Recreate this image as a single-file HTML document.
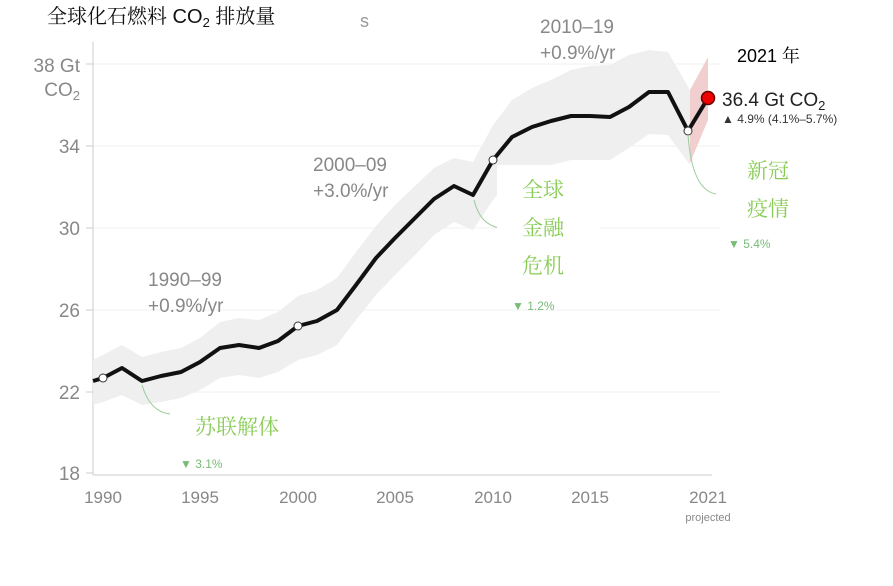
<!DOCTYPE html><html><head><meta charset="utf-8"><style>body{margin:0;background:#fff}svg{display:block}</style></head><body>
<svg width="893" height="586" xmlns="http://www.w3.org/2000/svg" font-family="Liberation Sans, Noto Sans CJK SC, sans-serif">
<g stroke="#f0f0f0" stroke-width="1"><line x1="93" y1="64" x2="720" y2="64"/><line x1="93" y1="146" x2="720" y2="146"/><line x1="93" y1="228" x2="720" y2="228"/><line x1="93" y1="310" x2="720" y2="310"/><line x1="93" y1="392" x2="720" y2="392"/></g>
<line x1="93" y1="42" x2="93" y2="475" stroke="#ccc"/><line x1="93" y1="475" x2="712" y2="475" stroke="#ccc"/>
<g stroke="#ccc"><line x1="86" y1="64" x2="93" y2="64"/><line x1="86" y1="146" x2="93" y2="146"/><line x1="86" y1="228" x2="93" y2="228"/><line x1="86" y1="310" x2="93" y2="310"/><line x1="86" y1="392" x2="93" y2="392"/><line x1="86" y1="473" x2="93" y2="473"/></g>
<g fill="#888" font-size="19" text-anchor="end"><text x="80" y="72">38 Gt</text><text x="80" y="96">CO<tspan font-size="13" dy="4">2</tspan></text><text x="80" y="153">34</text><text x="80" y="235">30</text><text x="80" y="317">26</text><text x="80" y="399">22</text><text x="80" y="480">18</text></g>
<g fill="#888" font-size="17" text-anchor="middle"><text x="103" y="503">1990</text><text x="200" y="503">1995</text><text x="298" y="503">2000</text><text x="395" y="503">2005</text><text x="493" y="503">2010</text><text x="590" y="503">2015</text><text x="708" y="503">2021</text><text x="708" y="521" font-size="11">projected</text></g>
<polygon fill="#efefef" points="93,360 122,345 142,357 161,352 181,348 200,338 220,322 239,318 259,320 278,312 298,296 317,290 337,278 356,252 376,226 395,205 415,186 434,168 454,158 473,162 493,125 512,100 532,88 551,80 571,70 590,66 610,65 629,55 649,50 668,52 690,90 690,165 668,135 649,134 629,148 610,160 590,160 571,160 551,165 532,170 512,178 493,200 473,230 454,222 434,235 415,255 395,275 376,295 356,320 337,345 317,355 298,360 278,372 259,378 239,375 220,378 200,390 181,398 161,402 142,405 122,395 103,402 93,405"/>
<polygon fill="#f2cfcf" points="690,90 708,57 708,120 690,163"/>
<polyline fill="none" stroke="#111" stroke-width="4" stroke-linejoin="round" points="93,381 103,378 122,368 142,381 161,376 181,372 200,362 220,348 239,345 259,348 278,341 298,326 317,321 337,310 356,285 376,258 395,238 415,218 434,199 454,186 473,195 493,160 512,137 532,127 551,121 571,116 590,116 610,117 629,107 649,92 668,92 688,131 708,98"/>
<g fill="#fff" stroke="#333" stroke-width="1"><circle cx="103" cy="378" r="4"/><circle cx="298" cy="326" r="4"/><circle cx="493" cy="160" r="4"/><circle cx="688" cy="131" r="4"/></g>
<circle cx="708" cy="98" r="6.5" fill="#e00" stroke="#600" stroke-width="1.5"/>
<g fill="none" stroke="#9c9" stroke-width="1"><path d="M142,385 Q150,412 170,414"/><path d="M688,135 Q692,190 716,194"/><path d="M474,200 Q480,225 500,228"/></g>
<rect x="497" y="165" width="103" height="115" fill="#fff"/><rect x="725" y="145" width="100" height="85" fill="#fff"/><rect x="190" y="405" width="110" height="35" fill="#fff"/>
<g fill="#888" font-size="19"><text x="148" y="286">1990–99</text><text x="148" y="312">+0.9%/yr</text><text x="313" y="171">2000–09</text><text x="313" y="197">+3.0%/yr</text><text x="540" y="33">2010–19</text><text x="540" y="59">+0.9%/yr</text></g>
<text x="722" y="106" font-size="19" fill="#222">36.4 Gt CO<tspan font-size="13" dy="4">2</tspan></text>
<text x="722" y="123" font-size="12" fill="#333">▲ 4.9% (4.1%–5.7%)</text>
<text x="737" y="62" font-size="18" fill="#000" font-family="Liberation Sans, Noto Serif CJK SC, serif">2021 年</text>
<text x="47" y="23" font-size="20" fill="#111" font-family="Liberation Sans, Noto Serif CJK SC, serif">全球化石燃料 CO<tspan font-size="13" dy="4">2</tspan><tspan dy="-4"> 排放量</tspan></text>
<text x="360" y="27" font-size="18" fill="#999">s</text>
<g fill="#8c5" font-size="21" font-family="Noto Serif CJK SC, serif"><text x="195" y="434">苏联解体</text><text x="522" y="197">全球</text><text x="522" y="235">金融</text><text x="522" y="273">危机</text><text x="747" y="178">新冠</text><text x="747" y="216">疫情</text></g>
<g fill="#7b7" font-size="12"><text x="180" y="468">▼ 3.1%</text><text x="512" y="310">▼ 1.2%</text><text x="728" y="248">▼ 5.4%</text></g>
</svg></body></html>
